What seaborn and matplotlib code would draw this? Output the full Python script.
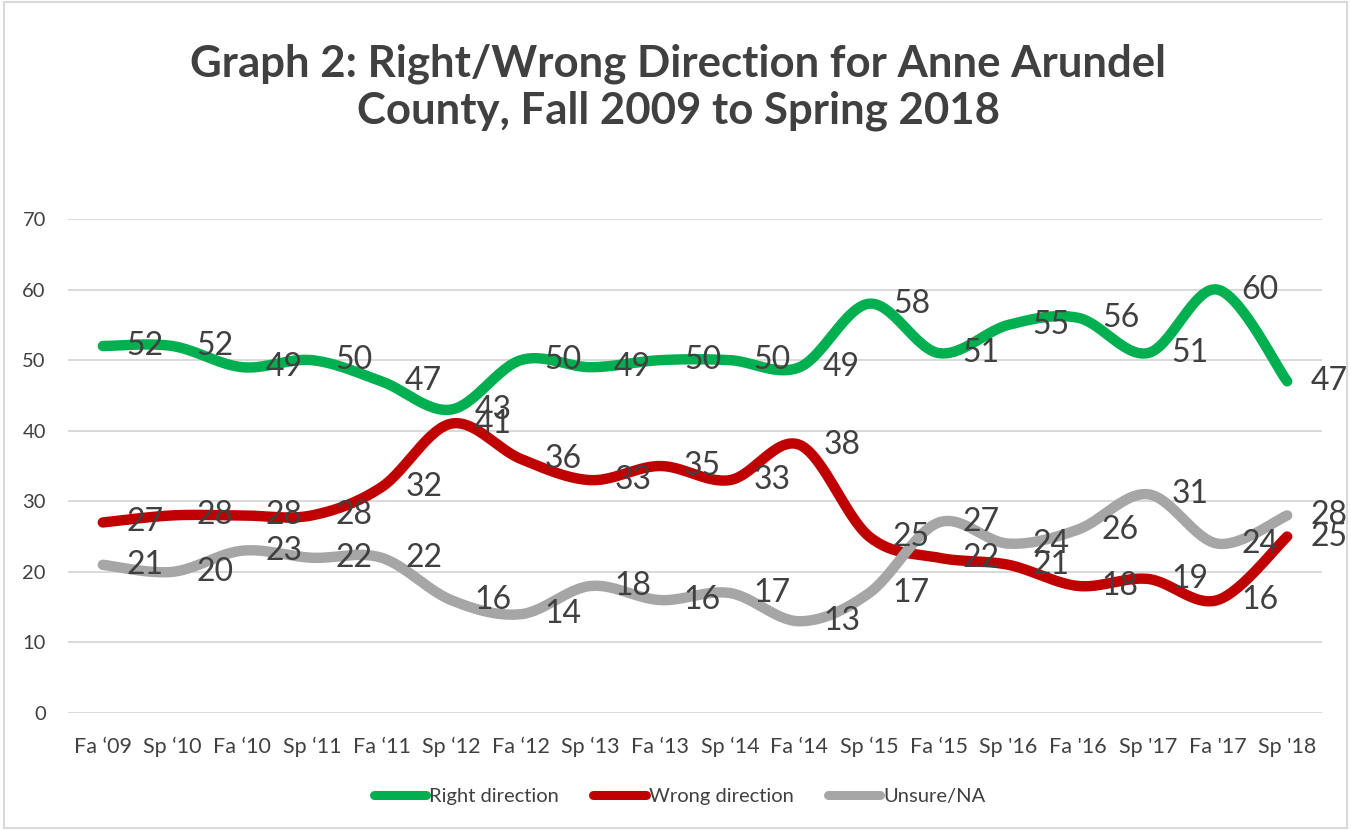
import numpy as np
import pandas as pd
import matplotlib
matplotlib.use("Agg")
import matplotlib.pyplot as plt
import seaborn as sns
from matplotlib.lines import Line2D
from matplotlib.patches import Rectangle

categories = ["Fa \u201809", "Sp \u201810", "Fa \u201810", "Sp \u201811", "Fa \u201811", "Sp \u201812",
              "Fa \u201812", "Sp \u201813", "Fa \u201813", "Sp \u201814", "Fa \u201814", "Sp \u201815",
              "Fa \u201815", "Sp '16", "Fa '16", "Sp '17", "Fa '17", "Sp '18"]
right_direction = [52, 52, 49, 50, 47, 43, 50, 49, 50, 50, 49, 58, 51, 55, 56, 51, 60, 47]
wrong_direction = [27, 28, 28, 28, 32, 41, 36, 33, 35, 33, 38, 25, 22, 21, 18, 19, 16, 25]
unsure_na = [21, 20, 23, 22, 22, 16, 14, 18, 16, 17, 13, 17, 27, 24, 26, 31, 24, 28]

series_names = ["Right direction", "Wrong direction", "Unsure/NA"]
series_values = [right_direction, wrong_direction, unsure_na]
colors = ["#00B050", "#C00000", "#A6A6A6"]

sns.set_theme(style="white")
plt.rcParams["font.family"] = ["Lato", "DejaVu Sans"]


def smooth(xs, ys, n=30):
    """Excel-like smoothed line: cubic Bezier segments with Catmull-Rom control points."""
    xs = np.asarray(xs, float)
    ys = np.asarray(ys, float)
    P = np.column_stack([xs, ys])
    out = []
    for i in range(len(P) - 1):
        p0 = P[i - 1] if i > 0 else P[i]
        p1 = P[i]
        p2 = P[i + 1]
        p3 = P[i + 2] if i + 2 < len(P) else P[i + 1]
        c1 = p1 + (p2 - p0) / 6.0
        c2 = p2 - (p3 - p1) / 6.0
        t = np.linspace(0, 1, n, endpoint=(i == len(P) - 2))[:, None]
        seg = ((1 - t) ** 3) * p1 + 3 * ((1 - t) ** 2) * t * c1 + 3 * (1 - t) * t ** 2 * c2 + t ** 3 * p2
        out.append(seg)
    return np.vstack(out)


frames = []
xpos = np.arange(len(categories))
for name, vals in zip(series_names, series_values):
    s = smooth(xpos, vals)
    frames.append(pd.DataFrame({"x": s[:, 0], "y": s[:, 1], "series": name, "order": np.arange(len(s))}))
df = pd.concat(frames, ignore_index=True)

fig = plt.figure(figsize=(13.51, 8.30), dpi=100)
ax = fig.add_axes([68 / 1351, 1 - 713 / 830, (1322 - 68) / 1351, (713 - 219) / 830])

sns.lineplot(data=df, x="x", y="y", hue="series", hue_order=series_names,
             palette=dict(zip(series_names, colors)), sort=False, estimator=None,
             linewidth=7.5, ax=ax, legend=False, solid_capstyle="round")

for vals in series_values:
    for i, v in enumerate(vals):
        ax.annotate(str(v), xy=(i, v), xytext=(17, 0), textcoords="offset points",
                    ha="left", va="center", fontsize=23, color="#404040")

ax.set_xlim(-0.5, len(categories) - 0.5)
ax.set_ylim(0, 70)
ax.set_yticks(range(0, 71, 10))
ax.set_xticks(xpos)
ax.set_xticklabels(categories)
ax.tick_params(axis="x", labelsize=15.5, colors="#404040", length=0, pad=17)
ax.tick_params(axis="y", labelsize=14.5, colors="#404040", length=0, pad=16)
ax.set_xlabel("")
ax.set_ylabel("")
ax.yaxis.grid(True, color="#D9D9D9", linewidth=1.4)
ax.xaxis.grid(False)
ax.set_axisbelow(True)
for sp in ax.spines.values():
    sp.set_visible(False)

fig.text(0.502, 1 - 87 / 830, "Graph 2: Right/Wrong Direction for Anne Arundel\nCounty, Fall 2009 to Spring 2018",
         ha="center", va="center", fontsize=31.5, fontweight="bold", color="#404040", linespacing=1.2)

handles = [Line2D([0], [0], color=c, linewidth=6.5, solid_capstyle="round") for c in colors]
fig.legend(handles, series_names, loc="center", bbox_to_anchor=(0.503, 1 - 796 / 830), ncol=3,
           frameon=False, fontsize=14.5, handlelength=2.6, handletextpad=0.15, columnspacing=1.7,
           labelcolor="#404040")

fig.patches.append(Rectangle((0.003, 0.003), 0.994, 0.994, transform=fig.transFigure,
                             fill=False, edgecolor="#D9D9D9", linewidth=1.5))

fig.savefig("out.png", dpi=100)
